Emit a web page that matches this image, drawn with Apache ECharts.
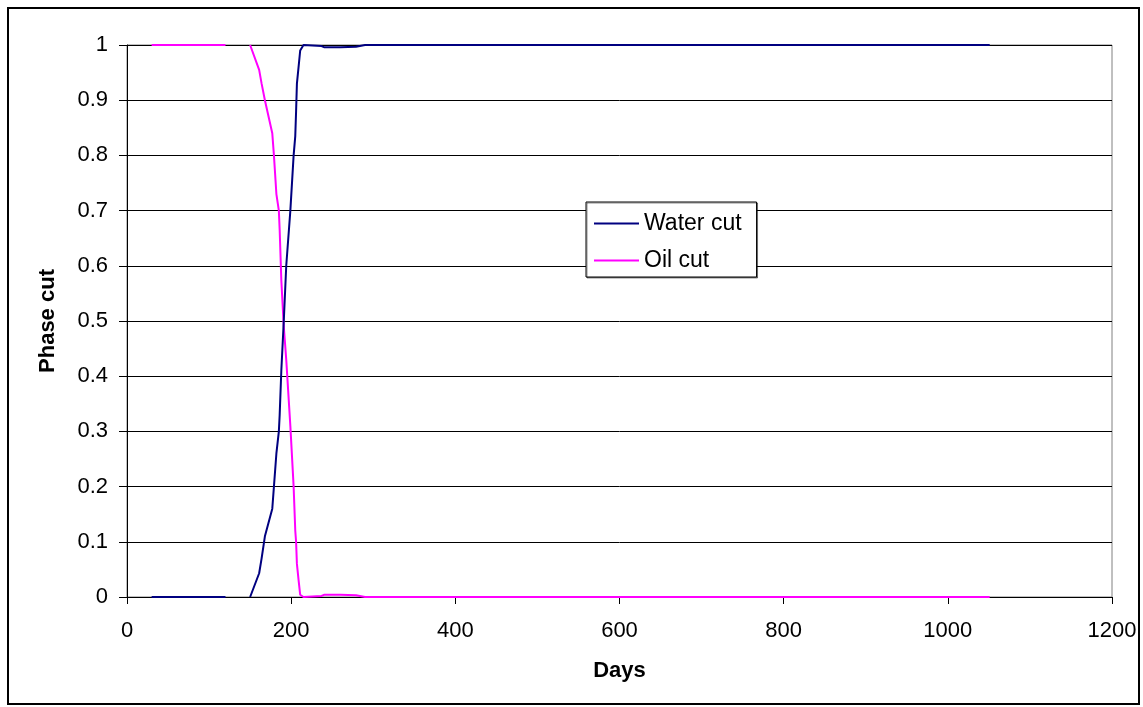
<!DOCTYPE html>
<html>
<head>
<meta charset="utf-8">
<script src="https://cdn.jsdelivr.net/npm/echarts@6/dist/echarts.min.js"></script>
<style>
  html, body { margin: 0; padding: 0; background: #fff; }
  #chart { width: 1143px; height: 707px; }
</style>
</head>
<body>
<div id="chart"></div>
<script>
// Simulation time in days
const days = [30, 60, 90, 120, 135, 150, 161, 164, 168, 177, 179, 182, 185, 186, 188, 191,
  194, 199, 203, 205, 206, 207, 209, 211, 215, 237, 240, 260, 279, 290, 400, 600, 800, 1000, 1051];

// Produced water fraction (null = no report)
const waterCut = [0, 0, 0, 0, null, 0, 0.043, 0.07, 0.11, 0.16, 0.20, 0.26, 0.30, 0.33, 0.41, 0.50,
  0.60, 0.70, 0.80, 0.835, 0.88, 0.93, 0.96, 0.99, 1.0, 0.998, 0.996, 0.996, 0.997, 1, 1, 1, 1, 1, 1];

// Produced oil fraction (null = no report)
const oilCut = [1, 1, 1, 1, null, 1, 0.955, 0.93, 0.90, 0.84, 0.80, 0.73, 0.70, 0.665, 0.574, 0.49,
  0.43, 0.31, 0.20, 0.12, 0.10, 0.06, 0.031, 0.004, 0, 0.002, 0.004, 0.004, 0.003, 0, 0, 0, 0, 0, 0];

const seriesNames = ['Water cut', 'Oil cut'];
const xTickLabels = ['0', '200', '400', '600', '800', '1000', '1200'];
const yTickLabels = ['0', '0.1', '0.2', '0.3', '0.4', '0.5', '0.6', '0.7', '0.8', '0.9', '1'];

const pairs = (vals) => days.map((d, i) => [d, vals[i] === null ? '-' : vals[i]]);

const font = 'Arial, "Liberation Sans", sans-serif';

const chart = echarts.init(document.getElementById('chart'), null, { renderer: 'canvas' });

chart.setOption({
  backgroundColor: '#fff',
  animation: false,
  graphic: [{
    type: 'rect',
    shape: { x: 8, y: 8, width: 1131, height: 696 },
    style: { fill: 'none', stroke: '#000', lineWidth: 2 },
    z: 100
  }],
  grid: {
    left: 127, right: 31, top: 45, bottom: 110,
    show: true, borderColor: '#808080', borderWidth: 1, backgroundColor: '#fff'
  },
  legend: {
    orient: 'vertical',
    left: 586, top: 202,
    padding: [10, 15, 5, 8],
    itemGap: 14,
    itemWidth: 45,
    itemHeight: 2,
    icon: 'rect',
    backgroundColor: '#fff',
    borderColor: '#000',
    borderWidth: 1,
    borderRadius: 0,
    shadowColor: 'rgba(0,0,0,0.45)',
    shadowOffsetX: 1,
    shadowOffsetY: 1,
    shadowBlur: 0,
    textStyle: { fontFamily: font, fontSize: 23, color: '#000' },
    data: seriesNames
  },
  xAxis: {
    type: 'value',
    min: 0, max: 1200, interval: 200,
    name: 'Days',
    nameLocation: 'middle',
    nameGap: 63,
    nameTextStyle: { fontFamily: font, fontSize: 22, fontWeight: 'bold', color: '#000' },
    axisLine: { show: true, onZero: false, lineStyle: { color: '#000', width: 1 } },
    axisTick: { show: true, inside: false, length: 7, lineStyle: { color: '#000' } },
    axisLabel: {
      margin: 23, fontFamily: font, fontSize: 22, color: '#000',
      formatter: (v) => xTickLabels[Math.round(v / 200)]
    },
    splitLine: { show: false }
  },
  yAxis: {
    type: 'value',
    min: 0, max: 1, interval: 0.1,
    name: 'Phase cut',
    nameLocation: 'middle',
    nameRotate: 90,
    nameGap: 68,
    nameTextStyle: { fontFamily: font, fontSize: 22, fontWeight: 'bold', color: '#000' },
    axisLine: { show: true, lineStyle: { color: '#000', width: 1 } },
    axisTick: { show: true, inside: false, length: 8, lineStyle: { color: '#000' } },
    axisLabel: {
      margin: 19, fontFamily: font, fontSize: 22, color: '#000',
      formatter: (v) => yTickLabels[Math.round(v * 10)]
    },
    splitLine: { show: true, lineStyle: { color: '#000', width: 1 } }
  },
  series: [
    {
      name: seriesNames[0],
      type: 'line',
      data: pairs(waterCut),
      symbol: 'none',
      connectNulls: false,
      clip: false,
      lineStyle: { color: '#000080', width: 2 },
      itemStyle: { color: '#000080' },
      z: 3
    },
    {
      name: seriesNames[1],
      type: 'line',
      data: pairs(oilCut),
      symbol: 'none',
      connectNulls: false,
      clip: false,
      lineStyle: { color: '#ff00ff', width: 2 },
      itemStyle: { color: '#ff00ff' },
      z: 2
    }
  ]
});
</script>
</body>
</html>
